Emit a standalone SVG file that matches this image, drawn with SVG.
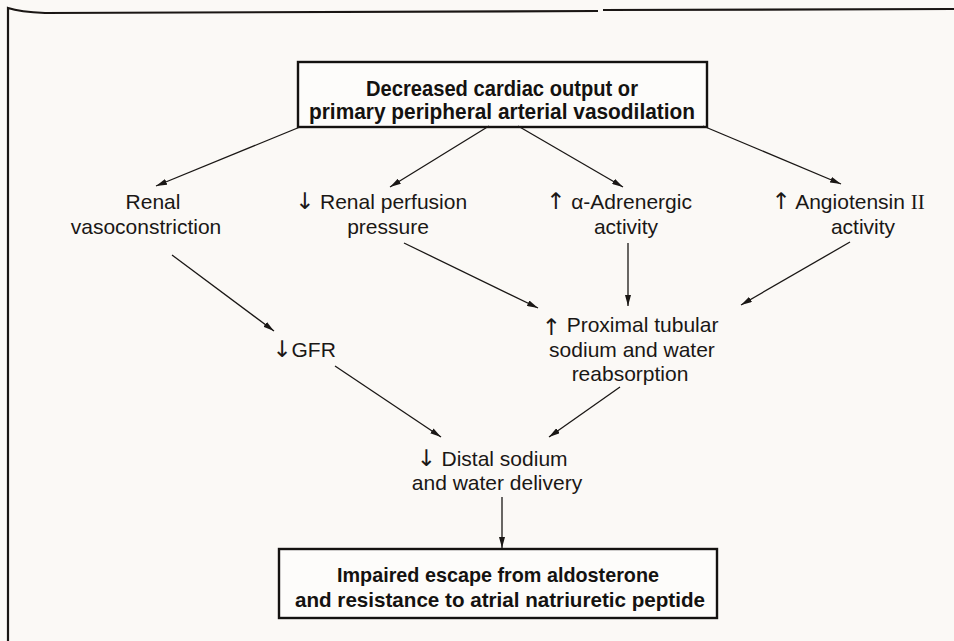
<svg xmlns="http://www.w3.org/2000/svg" width="954" height="641" viewBox="0 0 954 641">
  <style>
    .bg { fill: #fbf9f6; }
    .frame { fill: none; stroke: #1a1614; stroke-width: 2.2; }
    .box { fill: #fdfcfa; stroke: #141210; stroke-width: 2.4; }
    .t { font-family: "Liberation Sans", Arial, sans-serif; font-size: 21px; fill: #1a1715; text-anchor: middle; }
    .ar { font-family: "DejaVu Sans", sans-serif; font-size: 23px; }
    .tb { font-family: "Liberation Sans", Arial, sans-serif; font-size: 22px; font-weight: bold; fill: #141210; text-anchor: middle; }
    .tb2 { font-family: "Liberation Sans", Arial, sans-serif; font-size: 21px; font-weight: bold; fill: #141210; text-anchor: middle; }
    .edge { fill: none; stroke: #1a1715; stroke-width: 1.3; marker-end: url(#ah); }
  </style>
  <defs>
    <marker id="ah" viewBox="0 0 11 6" refX="11" refY="3" markerWidth="11" markerHeight="6" markerUnits="userSpaceOnUse" orient="auto">
      <path d="M0,0 L11,3 L0,6 Z" fill="#1a1715"/>
    </marker>
  </defs>

  <rect class="bg" x="0" y="0" width="954" height="641"/>

  <!-- page frame -->
  <path class="frame" d="M8,641 L8,8 Q20,12 45,13 L598,11"/>
  <path class="frame" d="M603,10 L954,9"/>

  <g id="cause">
    <rect class="box" x="298" y="62" width="409" height="65"/>
    <text class="tb" x="502" y="96" textLength="272" lengthAdjust="spacingAndGlyphs">Decreased cardiac output or</text>
    <text class="tb" x="502" y="119" textLength="386" lengthAdjust="spacingAndGlyphs">primary peripheral arterial vasodilation</text>
  </g>

  <g id="renal-vasoconstriction">
    <text class="t" x="153" y="209">Renal</text>
    <text class="t" x="146" y="234">vasoconstriction</text>
  </g>

  <g id="renal-perfusion">
    <text class="t" x="381" y="209"><tspan class="ar">↓</tspan> Renal perfusion</text>
    <text class="t" x="388" y="234">pressure</text>
  </g>

  <g id="adrenergic">
    <text class="t" x="619" y="209"><tspan class="ar">↑</tspan> α-Adrenergic</text>
    <text class="t" x="626" y="234">activity</text>
  </g>

  <g id="angiotensin">
    <text class="t" x="848" y="209"><tspan class="ar">↑</tspan> Angiotensin <tspan font-family="Liberation Serif">II</tspan></text>
    <text class="t" x="863" y="234">activity</text>
  </g>

  <g id="gfr">
    <text class="t" x="304" y="357"><tspan class="ar">↓</tspan>GFR</text>
  </g>

  <g id="proximal">
    <text class="t" x="630" y="332"><tspan class="ar" font-size="18" dy="3">↑</tspan><tspan dy="-3"> Proximal tubular</tspan></text>
    <text class="t" x="632" y="357">sodium and water</text>
    <text class="t" x="630" y="381">reabsorption</text>
  </g>

  <g id="distal">
    <text class="t" x="492" y="466"><tspan class="ar">↓</tspan> Distal sodium</text>
    <text class="t" x="497" y="490">and water delivery</text>
  </g>

  <g id="outcome">
    <rect class="box" x="279" y="549" width="438" height="69"/>
    <text class="tb2" x="498" y="582" textLength="322" lengthAdjust="spacingAndGlyphs">Impaired escape from aldosterone</text>
    <text class="tb2" x="500" y="607" textLength="410" lengthAdjust="spacingAndGlyphs">and resistance to atrial natriuretic peptide</text>
  </g>

  <g id="connectors">
    <line class="edge" x1="300" y1="127" x2="156" y2="186"/>
    <line class="edge" x1="489" y1="126" x2="390" y2="187"/>
    <line class="edge" x1="518" y1="126" x2="623" y2="187"/>
    <line class="edge" x1="703" y1="126" x2="841" y2="184"/>
    <line class="edge" x1="172" y1="255" x2="274" y2="331"/>
    <line class="edge" x1="404" y1="243" x2="538" y2="308"/>
    <line class="edge" x1="628" y1="243" x2="628" y2="306"/>
    <line class="edge" x1="850" y1="242" x2="741" y2="305"/>
    <line class="edge" x1="335" y1="366" x2="441" y2="437"/>
    <line class="edge" x1="620" y1="387" x2="549" y2="437"/>
    <line class="edge" x1="502" y1="497" x2="502" y2="548"/>
  </g>
</svg>
